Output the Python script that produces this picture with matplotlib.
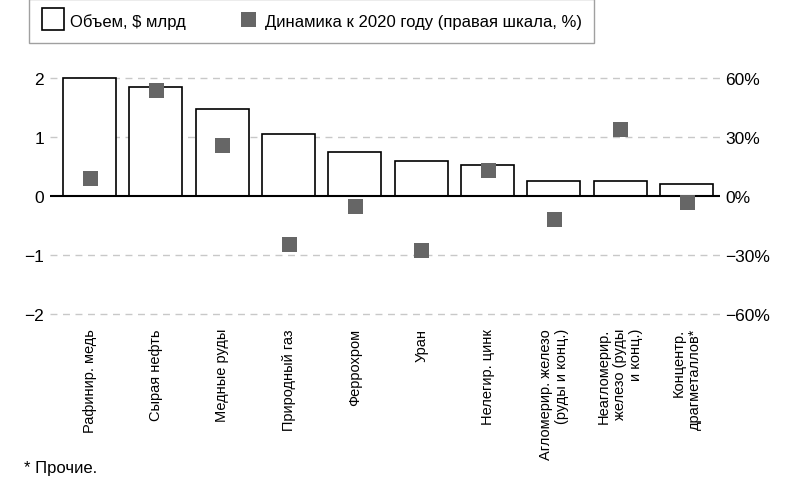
import matplotlib
matplotlib.use('Agg')
import matplotlib.pyplot as plt
from matplotlib.lines import Line2D

plt.rcParams['font.family'] = ['Liberation Sans', 'DejaVu Sans']

categories = ['Рафинир. медь', 'Сырая нефть', 'Медные руды', 'Природный газ',
              'Феррохром', 'Уран', 'Нелегир. цинк',
              'Агломерир. железо\n(руды и конц.)',
              'Неагломерир.\nжелезо (руды\nи конц.)',
              'Концентр.\nдрагметаллов*']
volume = [2.0, 1.85, 1.48, 1.05, 0.74, 0.585, 0.53, 0.25, 0.25, 0.21]
change_pct = [9, 54, 26, -24.5, -5, -27.5, 13, -11.5, 34, -3]

left_ticks = [-2, -1, 0, 1, 2]
left_labels = ['\u22122', '\u22121', '0', '1', '2']
right_ticks = [-60, -30, 0, 30, 60]
right_labels = ['\u221260%', '\u221230%', '0%', '30%', '60%']

fig = plt.figure(figsize=(7.9, 4.81), dpi=100)
ax = fig.add_axes([0.063, 0.339, 0.848, 0.503])
ax2 = ax.twinx()

x = list(range(len(categories)))
ax.bar(x, volume, width=0.8, color='white', edgecolor='black', linewidth=1.2, zorder=3)
ax.axhline(0, color='black', linewidth=1.5, zorder=4)

ax.set_ylim(-2.05, 2.05)
ax.set_xlim(-0.6, 9.5)
ax.set_yticks(left_ticks)
ax.set_yticklabels(left_labels)
for t in [-2, -1, 1, 2]:
    ax.axhline(t, color='#c8c8c8', linestyle=(0, (5, 4)), linewidth=1, zorder=1)

ax.set_xticks(x)
ax.set_xticklabels(categories, rotation=90, ha='center', va='top',
                   multialignment='right')

ax2.set_ylim(-61.5, 61.5)
ax2.set_yticks(right_ticks)
ax2.set_yticklabels(right_labels)
ax2.plot(x, change_pct, linestyle='none', marker='s', markersize=10.8,
         color='#666666', markeredgewidth=0, zorder=5)

for a in (ax, ax2):
    for s in a.spines.values():
        s.set_visible(False)
    a.tick_params(axis='both', length=0, labelsize=12.5, pad=4)
ax.tick_params(axis='x', pad=8, labelsize=10.5)

handles = [Line2D([], [], linestyle='none', marker='s', markersize=15.5,
                  markerfacecolor='white', markeredgecolor='black', markeredgewidth=1.2),
           Line2D([], [], linestyle='none', marker='s', markersize=10.8,
                  color='#666666', markeredgewidth=0)]
leg = fig.legend(handles, ['Объем, $ млрд', 'Динамика к 2020 году (правая шкала, %)'],
                 loc='lower left', bbox_to_anchor=(29 / 790, 1 - 44 / 481), ncol=2,
                 frameon=True, fancybox=False, fontsize=12,
                 handlelength=1.4, handleheight=1.4, handletextpad=0.33,
                 columnspacing=3.0, borderpad=0.75, borderaxespad=0)
leg.get_frame().set_edgecolor('#888888')
leg.get_frame().set_linewidth(1)

fig.text(0.030, 0.027, '* Прочие.', fontsize=12, ha='left', va='center')

fig.savefig('out.png', dpi=100)
